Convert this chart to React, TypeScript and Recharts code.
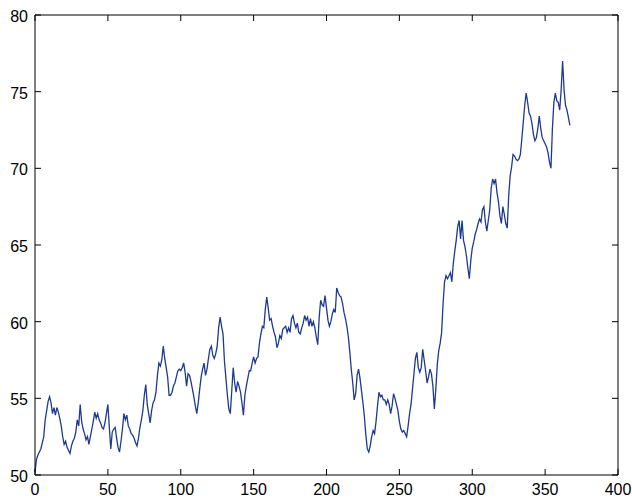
import React from "react";
import { LineChart, Line, XAxis, YAxis } from "recharts";

// Daily series, one value per day starting at day 0
const dailyValues: number[] = [
  50.2, 51.0, 51.3, 51.5, 51.7, 52.1, 52.5, 53.6, 54.2, 54.8,
  55.1, 54.7, 54.0, 54.4, 53.9, 54.4, 54.1, 53.7, 53.2, 52.5,
  52.0, 52.2, 51.8, 51.6, 51.4, 51.9, 52.2, 52.4, 52.8, 53.6,
  53.2, 54.6, 53.5, 53.0, 52.7, 52.3, 52.5, 52.0, 52.5, 53.0,
  53.5, 54.1, 53.7, 54.0, 53.6, 53.4, 53.1, 53.0, 53.4, 54.0,
  54.6, 53.1, 51.7, 52.8, 53.0, 53.1, 52.4, 51.8, 51.5, 52.2,
  53.0, 54.0, 53.6, 53.9, 53.2, 53.0, 52.7, 52.6, 52.4, 52.1,
  51.9, 52.4, 53.1, 53.6, 54.2, 55.2, 55.9, 54.6, 54.0, 53.4,
  54.2, 54.7, 54.9, 55.4, 56.5, 57.3, 57.1, 57.5, 58.4, 57.6,
  57.0, 56.4, 55.2, 55.2, 55.4, 55.8, 56.0, 56.4, 56.8, 56.9,
  56.8, 57.0, 57.3, 56.7, 55.8, 56.6, 56.5, 56.1, 55.6, 55.1,
  54.5, 54.0, 54.7, 55.6, 56.4, 56.9, 57.3, 56.5, 56.9, 57.6,
  58.2, 58.4, 57.8, 57.6, 57.9, 58.4, 59.6, 60.3, 59.7, 59.2,
  57.4, 56.3, 55.2, 54.3, 54.0, 55.5, 57.0, 56.0, 55.4, 56.1,
  55.8, 55.4, 54.7, 53.9, 55.2, 55.8, 56.3, 56.8, 56.8, 57.3,
  57.7, 57.3, 57.6, 57.7, 58.6, 59.2, 59.7, 59.6, 60.8, 61.6,
  60.9, 60.1, 60.2, 59.7, 59.3, 59.0, 58.3, 58.6, 59.1, 58.9,
  59.5, 59.6, 59.7, 59.3, 59.6, 59.3, 60.2, 60.4, 59.9, 59.6,
  59.9, 59.3, 59.2, 59.6, 59.9, 60.4, 60.1, 60.3, 59.7, 60.2,
  59.7, 60.0, 59.6, 59.0, 58.5, 60.3, 61.4, 61.1, 61.0, 61.7,
  60.9, 60.1, 59.7, 60.0, 60.5, 60.8, 60.6, 62.2, 61.9, 61.7,
  61.6, 61.2, 60.6, 60.2, 59.7, 59.0, 58.0, 56.9, 56.0, 54.9,
  55.3, 56.5, 56.9, 56.3, 55.5, 54.7, 53.8, 52.6, 51.7, 51.5,
  51.9, 52.5, 52.9, 52.7, 53.5, 54.5, 55.4, 55.1, 55.2, 54.9,
  54.9, 54.6, 54.9, 54.6, 54.0, 54.5, 55.3, 55.0, 54.6, 54.2,
  53.5, 53.0, 52.8, 52.9, 52.7, 52.5, 53.2, 54.0, 54.6, 55.6,
  56.6, 57.6, 58.0, 57.0, 56.7, 57.0, 58.2, 57.5, 56.8, 56.0,
  56.4, 56.9, 56.6, 55.8, 54.3, 55.6, 57.2, 58.1, 58.6, 59.3,
  61.2, 62.6, 63.0, 62.8, 63.0, 63.2, 62.6, 63.8, 64.6, 65.3,
  66.2, 66.6, 65.4, 66.6, 65.3, 64.9, 64.3, 63.5, 62.8, 64.0,
  64.8, 65.2, 65.7, 66.0, 66.4, 66.7, 66.5, 67.3, 67.5, 66.5,
  65.9, 66.6, 67.3, 68.7, 69.3, 69.0, 69.3, 68.4, 67.8, 66.9,
  66.4, 67.5, 67.0, 66.4, 66.1, 68.2, 69.5, 70.1, 70.9, 70.8,
  70.6, 70.5, 70.6, 70.9, 71.9, 73.0, 74.1, 74.9, 74.3, 73.6,
  73.4, 72.9, 72.2, 71.8, 72.0, 72.6, 73.4, 72.6, 72.0, 71.8,
  71.6, 71.4, 71.0, 70.4, 70.0, 72.6, 74.3, 74.9, 74.4, 74.3,
  73.8, 75.1, 77.0, 75.1, 74.1, 73.8, 73.3, 72.8,
];

const xTicks: number[] = [0, 50, 100, 150, 200, 250, 300, 350, 400];
const yTicks: number[] = [50, 55, 60, 65, 70, 75, 80];

const data = dailyValues.map((value, day) => ({ day, value }));

// Chart frame
const CHART_W = 632;
const CHART_H = 499;
const MARGIN_RIGHT = 13;
const RIGHT_AXIS_W = 1;
const PLOT_RIGHT = CHART_W - MARGIN_RIGHT - RIGHT_AXIS_W;

// Negative tick size turns the tick marks inward, into the plot box
const TICK_LEN = 6;
const FONT = "'Liberation Sans', Arial, sans-serif";
const BLACK = "#000";

function BottomLabel(props: any) {
  const { x, y, payload } = props;
  return (
    <text x={x} y={y + 20} textAnchor="middle" fontSize={16} fontFamily={FONT} fill={BLACK}>
      {payload.value}
    </text>
  );
}

// Left label plus the matching inward mark on the right edge of the box
function LeftLabel(props: any) {
  const { x, y, payload } = props;
  return (
    <g>
      <text x={x - 7} y={y + 7} textAnchor="end" fontSize={16} fontFamily={FONT} fill={BLACK}>
        {payload.value}
      </text>
      <line x1={PLOT_RIGHT - TICK_LEN} y1={y} x2={PLOT_RIGHT} y2={y} stroke={BLACK} strokeWidth={1} />
    </g>
  );
}

function NoLabel() {
  return null;
}

export default function App() {
  const axisCommon = {
    tickSize: -TICK_LEN,
    tickMargin: TICK_LEN,
    tickLine: { stroke: BLACK },
    axisLine: { stroke: BLACK },
    stroke: BLACK,
    interval: 0 as const,
  };
  return (
    <div style={{ position: "absolute", left: 0, top: 0, width: CHART_W, height: CHART_H, background: "#fff" }}>
      <LineChart width={CHART_W} height={CHART_H} data={data} margin={{ top: 14, right: MARGIN_RIGHT, bottom: 0, left: 0 }}>
        <XAxis
          xAxisId="bottom"
          type="number"
          dataKey="day"
          domain={[0, 400]}
          ticks={xTicks}
          height={24}
          tick={<BottomLabel />}
          {...axisCommon}
        />
        <XAxis
          xAxisId="top"
          orientation="top"
          type="number"
          dataKey="day"
          domain={[0, 400]}
          ticks={xTicks}
          height={1}
          tick={<NoLabel />}
          {...axisCommon}
        />
        <YAxis
          yAxisId="left"
          type="number"
          domain={[50, 80]}
          ticks={yTicks}
          width={35}
          tick={<LeftLabel />}
          {...axisCommon}
        />
        <YAxis
          yAxisId="right"
          orientation="right"
          type="number"
          domain={[50, 80]}
          ticks={yTicks}
          width={RIGHT_AXIS_W}
          tick={<NoLabel />}
          {...axisCommon}
        />
        <Line
          xAxisId="bottom"
          yAxisId="left"
          type="linear"
          dataKey="value"
          stroke="#1d3a8f"
          strokeWidth={1.3}
          dot={false}
          activeDot={false}
          isAnimationActive={false}
        />
      </LineChart>
    </div>
  );
}
